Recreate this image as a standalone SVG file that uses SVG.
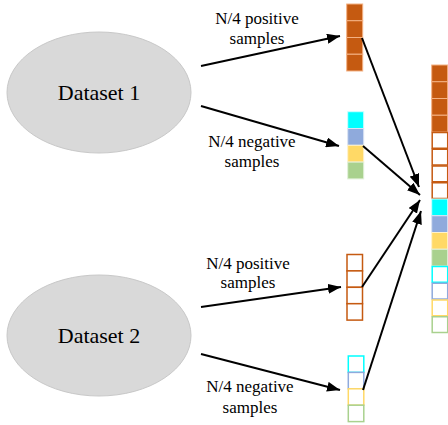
<svg xmlns="http://www.w3.org/2000/svg" width="448" height="425" viewBox="0 0 448 425">
<style>
.ds{fill:#D9D9D9;stroke:#C8C8C8;stroke-width:1}
text{font-family:'Times New Roman','Liberation Serif',Tinos,'DejaVu Serif',serif;fill:#000}
.big{font-size:22px}
.lbl{font-size:17px}
.c{stroke-width:2;stroke:#000;fill:none}
.fo{fill:#C55A11;stroke:#F4B183;stroke-width:1}
.fc{fill:#00FFFF;stroke:#CCFFFF;stroke-width:1}
.fb{fill:#8FAADC;stroke:#DAE3F3;stroke-width:1}
.fy{fill:#FFD966;stroke:#FFF2CC;stroke-width:1}
.fg{fill:#A9D18E;stroke:#E2F0D9;stroke-width:1}
.oo{fill:#fff;stroke:#C55A11;stroke-width:1.5}
.oc{fill:#fff;stroke:#00FFFF;stroke-width:1.5}
.ob{fill:#fff;stroke:#8FAADC;stroke-width:1.5}
.oy{fill:#fff;stroke:#FFD966;stroke-width:1.5}
.og{fill:#fff;stroke:#A9D18E;stroke-width:1.5}
</style>
<defs>
<marker id="ah" markerUnits="userSpaceOnUse" markerWidth="14" markerHeight="10" refX="13" refY="5" orient="auto">
<path d="M0,0 L13,5 L0,10 Z" fill="#000"/>
</marker>
</defs>
<g id="dataset1">
<ellipse class="ds" cx="99" cy="92.5" rx="92" ry="60.5"/>
<text class="big" x="99" y="100" text-anchor="middle">Dataset 1</text>
</g>
<g id="dataset2">
<ellipse class="ds" cx="99" cy="335.5" rx="92" ry="60.5"/>
<text class="big" x="99" y="343" text-anchor="middle">Dataset 2</text>
</g>
<g id="labels">
<text class="lbl" x="257" y="24" text-anchor="middle">N/4 positive</text>
<text class="lbl" x="257" y="44" text-anchor="middle">samples</text>
<text class="lbl" x="252" y="147" text-anchor="middle">N/4 negative</text>
<text class="lbl" x="252" y="167" text-anchor="middle">samples</text>
<text class="lbl" x="248" y="269" text-anchor="middle">N/4 positive</text>
<text class="lbl" x="248" y="288" text-anchor="middle">samples</text>
<text class="lbl" x="250" y="392" text-anchor="middle">N/4 negative</text>
<text class="lbl" x="250" y="413" text-anchor="middle">samples</text>
</g>
<g id="stack1">
<rect class="fo" x="346.7" y="4" width="16" height="16.75"/>
<rect class="fo" x="346.7" y="20.75" width="16" height="16.75"/>
<rect class="fo" x="346.7" y="37.5" width="16" height="16.75"/>
<rect class="fo" x="346.7" y="54.25" width="16" height="16.75"/>
</g>
<g id="stack2">
<rect class="fc" x="347.7" y="111.7" width="16" height="16.8"/>
<rect class="fb" x="347.7" y="128.5" width="16" height="16.8"/>
<rect class="fy" x="347.7" y="145.3" width="16" height="16.8"/>
<rect class="fg" x="347.7" y="162.1" width="16" height="16.8"/>
</g>
<g id="stack3">
<rect class="oo" x="347" y="254.5" width="15.5" height="16.4"/>
<rect class="oo" x="347" y="270.9" width="15.5" height="16.4"/>
<rect class="oo" x="347" y="287.3" width="15.5" height="16.4"/>
<rect class="oo" x="347" y="303.7" width="15.5" height="16.4"/>
</g>
<g id="stack4">
<rect class="oc" x="348.3" y="356" width="15.5" height="16.4"/>
<rect class="ob" x="348.3" y="372.4" width="15.5" height="16.4"/>
<rect class="oy" x="348.3" y="388.8" width="15.5" height="16.4"/>
<rect class="og" x="348.3" y="405.2" width="15.5" height="16.4"/>
</g>
<g id="combined">
<rect class="fo" x="431.7" y="65" width="16" height="16.75"/>
<rect class="fo" x="431.7" y="81.75" width="16" height="16.75"/>
<rect class="fo" x="431.7" y="98.5" width="16" height="16.75"/>
<rect class="fo" x="431.7" y="115.25" width="16" height="16.75"/>
<rect class="oo" x="432.2" y="132.5" width="15.5" height="15.75"/>
<rect class="oo" x="432.2" y="149.25" width="15.5" height="15.75"/>
<rect class="oo" x="432.2" y="166" width="15.5" height="15.75"/>
<rect class="oo" x="432.2" y="182.75" width="15.5" height="15.75"/>
<rect class="fc" x="431.7" y="199" width="16" height="16.75"/>
<rect class="fb" x="431.7" y="215.75" width="16" height="16.75"/>
<rect class="fy" x="431.7" y="232.5" width="16" height="16.75"/>
<rect class="fg" x="431.7" y="249.25" width="16" height="16.75"/>
<rect class="oc" x="432.2" y="266.5" width="15.5" height="15.75"/>
<rect class="ob" x="432.2" y="283.25" width="15.5" height="15.75"/>
<rect class="oy" x="432.2" y="300" width="15.5" height="15.75"/>
<rect class="og" x="432.2" y="316.75" width="15.5" height="15.75"/>
</g>
<g id="connectors">
<line class="c" x1="201" y1="66" x2="340" y2="36" marker-end="url(#ah)"/>
<line class="c" x1="201" y1="106" x2="339" y2="146" marker-end="url(#ah)"/>
<line class="c" x1="201" y1="307" x2="341" y2="287" marker-end="url(#ah)"/>
<line class="c" x1="201" y1="354" x2="340" y2="390" marker-end="url(#ah)"/>
<line class="c" x1="362" y1="38" x2="419" y2="187" marker-end="url(#ah)"/>
<line class="c" x1="363" y1="146" x2="420" y2="195" marker-end="url(#ah)"/>
<line class="c" x1="362" y1="287" x2="420" y2="200" marker-end="url(#ah)"/>
<line class="c" x1="363" y1="390" x2="421" y2="211" marker-end="url(#ah)"/>
</g>
</svg>
